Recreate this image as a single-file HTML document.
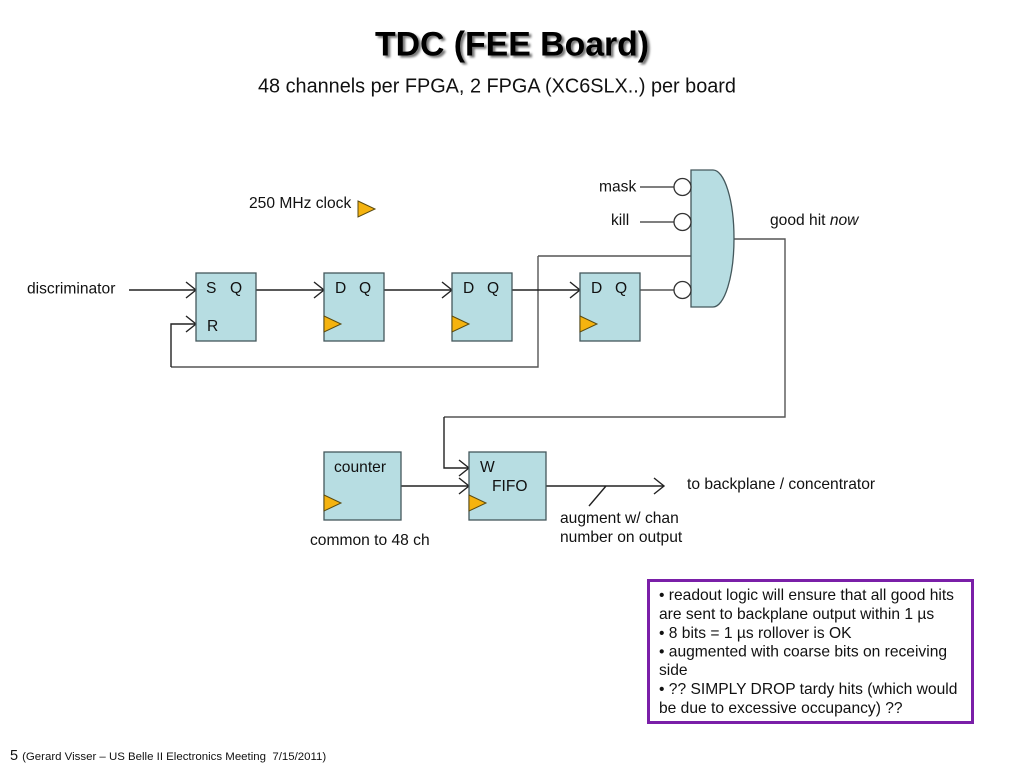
<!DOCTYPE html>
<html>
<head>
<meta charset="utf-8">
<style>
html,body{margin:0;padding:0;background:#fff;width:1024px;height:768px;overflow:hidden}
svg{display:block}
text{font-family:"Liberation Sans",sans-serif;fill:#111;font-size:15.6px}
.b{fill:#b7dde2;stroke:#44585c;stroke-width:1.3}
.c{fill:#f5b30f;stroke:#5a4a10;stroke-width:1}
.l{fill:none;stroke:#555;stroke-width:1.4}
.k{fill:none;stroke:#222;stroke-width:1.4}
.a{fill:none;stroke:#222;stroke-width:1.4}
.o{fill:#fff;stroke:#333;stroke-width:1.3}
</style>
</head>
<body>
<svg width="1024" height="768" viewBox="0 0 1024 768" xmlns="http://www.w3.org/2000/svg">
<defs><filter id="s" x="-10%" y="-30%" width="120%" height="160%"><feGaussianBlur stdDeviation="1"/></filter></defs>
<text x="514.5" y="57.500" text-anchor="middle" style="font-size:33.8px;font-weight:bold;fill:#777" filter="url(#s)">TDC (FEE Board)</text>
<text x="512" y="55.500" text-anchor="middle" style="font-size:33.8px;font-weight:bold;fill:#000">TDC (FEE Board)</text>
<text x="258" y="92.500" style="font-size:19.87px">48 channels per FPGA, 2 FPGA (XC6SLX..) per board</text>

<text x="249" y="208">250 MHz clock</text>
<polygon class="c" points="358,201 375,209 358,217"/>
<text x="599" y="191.500">mask</text>
<text x="611" y="225">kill</text>
<text x="770" y="225">good hit <tspan font-style="italic">now</tspan></text>
<text x="27" y="293.500">discriminator</text>

<!-- wires -->
<path class="l" d="M640 187H674M640 222H674M640 290H674"/>
<path class="l" d="M538 256H691M538 256V367H171"/>
<path class="l" d="M734 239H785V417H444"/>
<path class="k" d="M171 367V324H196M444 417V468H469"/>
<path class="k" d="M129 290H196M256 290H324M384 290H452M512 290H580M401 486H469M546 486H664M606 486L589 506"/>
<path class="a" d="M186 282L196 290L186 298M186 316L196 324L186 332M314 282L324 290L314 298M442 282L452 290L442 298M570 282L580 290L570 298M459 460L469 468L459 476M459 478L469 486L459 494M654 478L664 486L654 494"/>

<!-- boxes -->
<rect class="b" x="196" y="273" width="60" height="68"/>
<rect class="b" x="324" y="273" width="60" height="68"/>
<rect class="b" x="452" y="273" width="60" height="68"/>
<rect class="b" x="580" y="273" width="60" height="68"/>
<rect class="b" x="324" y="452" width="77" height="68"/>
<rect class="b" x="469" y="452" width="77" height="68"/>
<polygon class="c" points="324,316 341,324 324,332"/>
<polygon class="c" points="452,316 469,324 452,332"/>
<polygon class="c" points="580,316 597,324 580,332"/>
<polygon class="c" points="324,495 341,503 324,511"/>
<polygon class="c" points="469,495 486,503 469,511"/>

<!-- gate -->
<path class="b" d="M691 170H713A21 68.500 0 0 1 713 307H691Z"/>
<circle class="o" cx="682.500" cy="187" r="8.500"/>
<circle class="o" cx="682.500" cy="222" r="8.500"/>
<circle class="o" cx="682.500" cy="290" r="8.500"/>

<!-- box labels -->
<text x="206" y="293">S</text><text x="230" y="293">Q</text><text x="207" y="331">R</text>
<text x="335" y="293">D</text><text x="359" y="293">Q</text>
<text x="463" y="293">D</text><text x="487" y="293">Q</text>
<text x="591" y="293">D</text><text x="615" y="293">Q</text>
<text x="334" y="472">counter</text>
<text x="480" y="472">W</text>
<text x="492" y="491">FIFO</text>
<text x="310" y="545">common to 48 ch</text>
<text x="560" y="523">augment w/ chan</text>
<text x="560" y="542">number on output</text>
<text x="687" y="489">to backplane / concentrator</text>

<!-- note -->
<rect x="648.500" y="580.500" width="324" height="142" fill="#fff" stroke="#7a1fa8" stroke-width="3"/>
<text x="659" y="600">• readout logic will ensure that all good hits</text>
<text x="659" y="619">are sent to backplane output within 1 µs</text>
<text x="659" y="638">• 8 bits = 1 µs rollover is OK</text>
<text x="659" y="656.500">• augmented with coarse bits on receiving</text>
<text x="659" y="675">side</text>
<text x="659" y="694">• ?? SIMPLY DROP tardy hits (which would</text>
<text x="659" y="713">be due to excessive occupancy) ??</text>

<text x="10" y="760"><tspan style="font-size:14.500px">5 </tspan><tspan style="font-size:11.450px">(Gerard Visser – US Belle II Electronics Meeting&#160; 7/15/2011)</tspan></text>
</svg>
</body>
</html>
